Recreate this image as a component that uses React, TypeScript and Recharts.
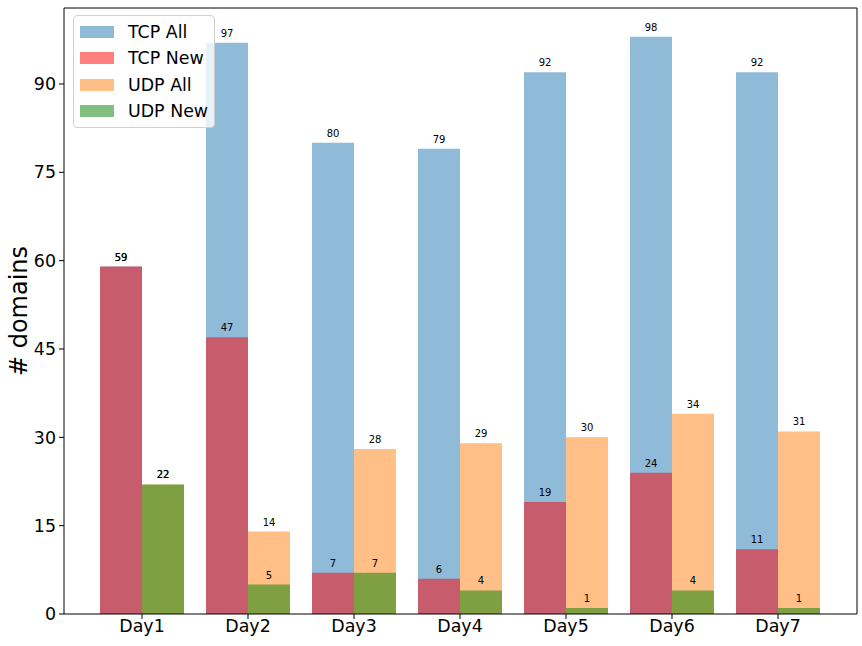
import { Bar, BarChart, LabelList, XAxis, YAxis } from "recharts";

const days = ["Day1", "Day2", "Day3", "Day4", "Day5", "Day6", "Day7"];
const tcpAll = [59, 97, 80, 79, 92, 98, 92];
const tcpNew = [59, 47, 7, 6, 19, 24, 11];
const udpAll = [22, 14, 28, 29, 30, 34, 31];
const udpNew = [22, 5, 7, 4, 1, 4, 1];
const yTicks = [0, 15, 30, 45, 60, 75, 90];

const FONT = "'DejaVu Sans', sans-serif";

const series = [
  { key: "tcpAll", name: "TCP All", color: "#1f77b4" },
  { key: "tcpNew", name: "TCP New", color: "#ff0000" },
  { key: "udpAll", name: "UDP All", color: "#ff7f0e" },
  { key: "udpNew", name: "UDP New", color: "#008000" },
];

const data = days.map((day, i) => ({
  day,
  tcpAll: tcpAll[i],
  tcpNew: tcpNew[i],
  udpAll: udpAll[i],
  udpNew: udpNew[i],
}));

function LegendBox() {
  return (
    <div
      style={{
        position: "absolute",
        left: 73,
        top: 15,
        width: 142,
        height: 113,
        border: "1px solid #d0d0d0",
        borderRadius: 4,
        background: "rgba(255,255,255,0.8)",
        fontFamily: FONT,
        fontSize: 17.4,
        boxSizing: "border-box",
        paddingTop: 3,
        whiteSpace: "nowrap",
      }}
    >
      {series.map((s) => (
        <div key={s.key} style={{ display: "flex", alignItems: "center", height: 26.3 }}>
          <span
            style={{
              display: "inline-block",
              width: 34,
              height: 12,
              marginLeft: 6,
              marginRight: 14,
              background: s.color,
              opacity: 0.5,
            }}
          />
          <span style={{ color: "#000" }}>{s.name}</span>
        </div>
      ))}
    </div>
  );
}

const labelStyle = { fill: "#000", fontSize: 10, fontFamily: FONT };

export default function App() {
  const axisStroke = "#000";
  const tickStyle = { fill: "#000", fontSize: 17.4, fontFamily: FONT };
  const pad = { left: 25, right: 26 };
  return (
    <div style={{ position: "absolute", left: 0, top: 0, width: 862, height: 646, background: "#fff" }}>
      <BarChart
        width={862}
        height={646}
        data={data}
        margin={{ top: 7, right: 4, left: 0, bottom: 0 }}
        barGap={0}
        barCategoryGap={0}
      >
        <XAxis
          xAxisId="all"
          dataKey="day"
          height={32}
          padding={pad}
          tick={tickStyle}
          tickLine={{ stroke: axisStroke }}
          axisLine={{ stroke: axisStroke }}
          tickSize={5}
          tickMargin={1}
        />
        <XAxis xAxisId="new" dataKey="day" hide padding={pad} />
        <XAxis
          xAxisId="top"
          dataKey="day"
          orientation="top"
          height={1}
          tick={false}
          tickLine={false}
          axisLine={{ stroke: axisStroke }}
          padding={pad}
        />
        <YAxis
          yAxisId="left"
          width={64}
          domain={[0, 102.9]}
          ticks={yTicks}
          tick={tickStyle}
          tickLine={{ stroke: axisStroke }}
          axisLine={{ stroke: axisStroke }}
          tickSize={5}
          tickMargin={3}
          label={{
            value: "# domains",
            angle: -90,
            position: "insideLeft",
            offset: 18,
            style: { fill: "#000", fontSize: 24, fontFamily: FONT, textAnchor: "middle" },
          }}
        />
        <YAxis
          yAxisId="right"
          orientation="right"
          width={1}
          tick={false}
          tickLine={false}
          axisLine={{ stroke: axisStroke }}
          domain={[0, 102.9]}
        />
        <Bar xAxisId="all" yAxisId="left" dataKey="tcpAll" name="TCP All" fill="#1f77b4" fillOpacity={0.5} barSize={42} isAnimationActive={false}>
          <LabelList dataKey="tcpAll" position="top" offset={6} style={labelStyle} />
        </Bar>
        <Bar xAxisId="all" yAxisId="left" dataKey="udpAll" name="UDP All" fill="#ff7f0e" fillOpacity={0.5} barSize={42} isAnimationActive={false}>
          <LabelList dataKey="udpAll" position="top" offset={6} style={labelStyle} />
        </Bar>
        <Bar xAxisId="new" yAxisId="left" dataKey="tcpNew" name="TCP New" fill="#ff0000" fillOpacity={0.5} barSize={42} isAnimationActive={false}>
          <LabelList dataKey="tcpNew" position="top" offset={6} style={labelStyle} />
        </Bar>
        <Bar xAxisId="new" yAxisId="left" dataKey="udpNew" name="UDP New" fill="#008000" fillOpacity={0.5} barSize={42} isAnimationActive={false}>
          <LabelList dataKey="udpNew" position="top" offset={6} style={labelStyle} />
        </Bar>
      </BarChart>
      <LegendBox />
    </div>
  );
}
